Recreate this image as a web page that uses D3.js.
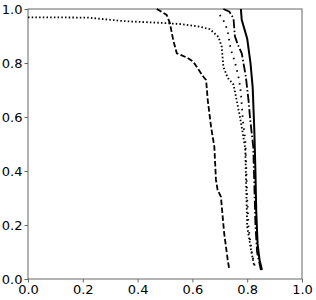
<!DOCTYPE html>
<html>
<head>
<meta charset="utf-8">
<script src="https://cdn.jsdelivr.net/npm/d3@7"></script>
<style>
  body { margin: 0; background: #fff; }
  .axis text { font-family: "DejaVu Sans", sans-serif; font-size: 13px; fill: #000; }
  .axis path, .axis line { stroke: #666; }
</style>
</head>
<body>
<svg id="canvas" width="316" height="300"></svg>
<script>
// ---- data ----
var ticks = [0, 0.2, 0.4, 0.6, 0.8, 1.0];

var solidX = [0.777, 0.780, 0.800, 0.812, 0.820, 0.826, 0.830, 0.833, 0.838, 0.845, 0.854];
var solidY = [1.000, 0.960, 0.890, 0.800, 0.710, 0.550, 0.400, 0.250, 0.130, 0.070, 0.033];

var dashDotX = [0.713, 0.735, 0.750, 0.755, 0.765, 0.780, 0.795, 0.805, 0.810, 0.822, 0.826, 0.830, 0.836, 0.850];
var dashDotY = [1.000, 0.990, 0.965, 0.900, 0.870, 0.836, 0.750, 0.660, 0.600, 0.490, 0.350, 0.200, 0.100, 0.033];

var sparseDotX = [0.700, 0.720, 0.730, 0.740, 0.755, 0.770, 0.777, 0.784, 0.793, 0.797, 0.800, 0.805, 0.818, 0.828];
var sparseDotY = [0.978, 0.947, 0.910, 0.850, 0.805, 0.740, 0.690, 0.590, 0.515, 0.400, 0.300, 0.190, 0.090, 0.046];

var denseDotX = [0.000, 0.100, 0.220, 0.350, 0.480, 0.560, 0.625, 0.664, 0.695, 0.707, 0.713, 0.729, 0.750, 0.759, 0.771, 0.784, 0.793, 0.796, 0.800, 0.814, 0.826];
var denseDotY = [0.969, 0.969, 0.968, 0.955, 0.949, 0.944, 0.935, 0.925, 0.897, 0.860, 0.786, 0.745, 0.720, 0.675, 0.614, 0.540, 0.480, 0.354, 0.194, 0.107, 0.046];

var dashedX = [0.470, 0.506, 0.518, 0.530, 0.543, 0.580, 0.603, 0.640, 0.650, 0.656, 0.668, 0.680, 0.686, 0.692, 0.704, 0.716, 0.729, 0.735];
var dashedY = [1.000, 0.978, 0.947, 0.885, 0.836, 0.820, 0.805, 0.749, 0.737, 0.663, 0.564, 0.490, 0.367, 0.330, 0.305, 0.169, 0.070, 0.033];

// ---- layout ----
var margin = { top: 9, right: 14, bottom: 21, left: 28 };
var width = 316 - margin.left - margin.right;
var height = 300 - margin.top - margin.bottom;

var svg = d3.select('#canvas');
var g = svg.append('g').attr('transform', 'translate(' + margin.left + ',' + margin.top + ')');

var xScale = d3.scaleLinear().domain([0, 1]).range([0, width]);
var yScale = d3.scaleLinear().domain([0, 1]).range([height, 0]);

// frame
g.append('rect').attr('width', width).attr('height', height)
  .style('fill', 'none').style('stroke', '#666').style('stroke-width', 1);

g.append('g').attr('class', 'axis').attr('transform', 'translate(0,' + height + ')')
  .call(d3.axisBottom(xScale).tickValues(ticks).tickFormat(d3.format('.1f')).tickSize(3.5).tickPadding(2))
  .select('.domain').remove();
g.append('g').attr('class', 'axis')
  .call(d3.axisLeft(yScale).tickValues(ticks).tickFormat(d3.format('.1f')).tickSize(3.5).tickPadding(2))
  .select('.domain').remove();

var line = d3.line().x(d => xScale(d[0])).y(d => yScale(d[1]));

function drawSeries(xs, ys, dash, w){
  var data = xs.map((x, i) => [x, ys[i]]);
  g.append('path').attr('d', line(data))
    .style('fill', 'none').style('stroke', '#000').style('stroke-width', w)
    .style('stroke-dasharray', dash);
}

drawSeries(dashedX, dashedY, '5.5,2.4', 1.8);
drawSeries(denseDotX, denseDotY, '1.5,2.2', 1.8);
drawSeries(sparseDotX, sparseDotY, '1.5,5', 1.8);
drawSeries(dashDotX, dashDotY, '9,2.4,1.5,2.4', 1.8);
drawSeries(solidX, solidY, null, 2);
</script>
</body>
</html>
